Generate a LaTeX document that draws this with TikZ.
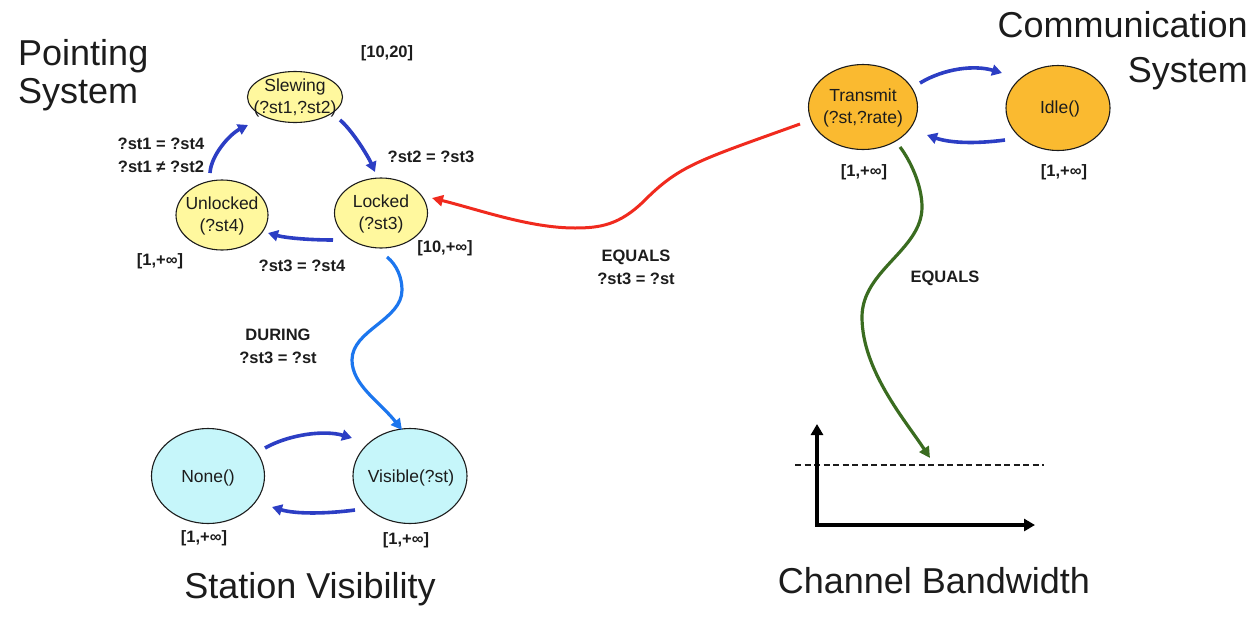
\documentclass[tikz,border=0pt]{standalone}
\usepackage{fontspec}
\setmainfont{Liberation Sans}
\usetikzlibrary{arrows.meta,shapes.geometric,calc}

\definecolor{stateyellow}{RGB}{255,248,158}
\definecolor{stateorange}{RGB}{250,186,48}
\definecolor{statecyan}{RGB}{198,246,250}
\definecolor{flowblue}{RGB}{44,62,196}
\definecolor{syncblue}{RGB}{28,118,238}
\definecolor{syncred}{RGB}{240,42,30}
\definecolor{syncgreen}{RGB}{58,108,32}
\definecolor{ink}{RGB}{28,28,28}

\begin{document}
\begin{tikzpicture}[x=1pt,y=-1pt,
  state/.style={ellipse, draw=ink, line width=1.1pt, inner sep=0pt},
  stxt/.style={font=\fontsize{17.5}{22}\selectfont, align=center, text=ink, inner sep=0pt},
  lbl/.style={font=\bfseries\fontsize{16.5}{23}\selectfont, align=center, text=ink, inner sep=0pt},
  heading/.style={font=\fontsize{36}{40}\selectfont, text=ink, inner sep=0pt},
  flow/.style={draw=flowblue, line width=3.6pt, -{Triangle[length=10pt,width=11pt]}},
  sync/.style={line width=3.2pt, -{Triangle[length=11pt,width=11pt]}}
]
\useasboundingbox (0,0) rectangle (1251,619);

% ---------- headings ----------
\node[heading, anchor=base west] (hpoint1) at (18,65) {Pointing};
\node[heading, anchor=base west] (hpoint2) at (18,103) {System};
\node[heading, anchor=base east] (hcomm1) at (1248,37) {Communication};
\node[heading, anchor=base east] (hcomm2) at (1248,82) {System};
\node[heading, anchor=base] (hvis) at (310,598) {Station Visibility};
\node[heading, anchor=base] (hband) at (934,593) {Channel Bandwidth};

% ---------- pointing system ----------
\node[state, fill=stateyellow, minimum width=95pt, minimum height=51pt] (slew) at (295,97) {};
\node[stxt] (slewt) at (295,98) {Slewing\\(?st1,?st2)};
\node[state, fill=stateyellow, minimum width=93pt, minimum height=70pt] (lock) at (381,213) {};
\node[stxt] (lockt) at (381,214) {Locked\\(?st3)};
\node[state, fill=stateyellow, minimum width=92pt, minimum height=70pt] (unlock) at (222,215) {};
\node[stxt] (unlockt) at (222,216) {Unlocked\\(?st4)};

\node[lbl] (dslew) at (387,53) {[10,20]};
\node[lbl] (dlock) at (445,248) {[10,+∞]};
\node[lbl] (dunlock) at (160,261) {[1,+∞]};
\node[lbl] (cunl) at (161,155) {?st1 = ?st4\\?st1 ≠ ?st2};
\node[lbl] (cslew) at (431,157) {?st2 = ?st3};
\node[lbl] (clock) at (302,266) {?st3 = ?st4};

\draw[flow] ($(slew)+(45,23)$) .. controls (352,130) and (368,156) .. ($(lock)+(-6,-41)$);
\draw[flow] ($(unlock)+(-12,-42)$) .. controls (211,155) and (230,134) .. ($(slew)+(-47,28)$);
\draw[flow] ($(lock)+(-48,27)$) .. controls (310,240) and (286,238) .. ($(unlock)+(46,18)$);

% ---------- communication system ----------
\node[state, fill=stateorange, minimum width=109pt, minimum height=85pt] (trans) at (863,107) {};
\node[stxt] (transt) at (863,108) {Transmit\\(?st,?rate)};
\node[state, fill=stateorange, minimum width=104pt, minimum height=85pt] (idle) at (1058,108) {};
\node[stxt] (idlet) at (1060,109) {Idle()};
\node[lbl] (dtrans) at (864,172) {[1,+∞]};
\node[lbl] (didle) at (1064,172) {[1,+∞]};

\draw[flow] ($(trans)+(57,-24)$) .. controls (945,68) and (975,65) .. ($(idle)+(-56,-35)$);
\draw[flow] ($(idle)+(-53,32)$) .. controls (975,144) and (950,143) .. ($(trans)+(64,28)$);

% ---------- station visibility ----------
\node[state, fill=statecyan, minimum width=113pt, minimum height=95pt] (none) at (208,476) {};
\node[stxt] (nonet) at (208,478) {None()};
\node[state, fill=statecyan, minimum width=114pt, minimum height=95pt] (vis) at (410,476) {};
\node[stxt] (vist) at (411,478) {Visible(?st)};
\node[lbl] (dnone) at (204,538) {[1,+∞]};
\node[lbl] (dvis) at (406,540) {[1,+∞]};

\draw[flow] ($(none)+(57,-28)$) .. controls (290,434) and (325,430) .. ($(vis)+(-58,-38)$);
\draw[flow] ($(vis)+(-55,34)$) .. controls (325,514) and (295,514) .. ($(none)+(64,31)$);

% ---------- channel bandwidth ----------
\coordinate (origin) at (817,525);
\coordinate (ytip) at (817,424);
\coordinate (xtip) at (1035,525);
\coordinate (lvlL) at (795,465);
\coordinate (lvlR) at (1044,465);
\coordinate (level) at (930,458);
\draw[line width=1.8pt, ink, dash pattern=on 6pt off 3.5pt] (lvlL) -- (lvlR);
\draw[line width=3.4pt, black, line join=miter, {Triangle[length=11pt,width=12pt]}-{Triangle[length=11pt,width=12pt]}]
  (ytip) -- (origin) -- (xtip);

% ---------- synchronisations ----------
\draw[sync, draw=syncred, line width=3pt] ($(trans)+(-63,17)$)
  .. controls (700,160) and (680,165) .. (645,200)
  .. controls (620,225) and (600,228) .. (575,228)
  .. controls (530,228) and (480,210) .. ($(lock)+(51,-15)$);
\node[lbl] (ceq) at (636,267) {EQUALS\\?st3 = ?st};

\draw[sync, draw=syncblue] ($(lock)+(6,44)$)
  .. controls (397,265) and (402,278) .. (402,290)
  .. controls (402,320) and (352,330) .. (352,360)
  .. controls (352,385) and (380,402) .. ($(vis)+(-8,-46)$);
\node[lbl] (cdur) at (278,346) {DURING\\?st3 = ?st};

\draw[sync, draw=syncgreen] ($(trans)+(37,40)$)
  .. controls (910,160) and (922,185) .. (922,207)
  .. controls (922,250) and (862,270) .. (862,317)
  .. controls (862,370) and (905,420) .. (level);
\node[lbl] (ceqg) at (945,278) {EQUALS};

\end{tikzpicture}
\end{document}
